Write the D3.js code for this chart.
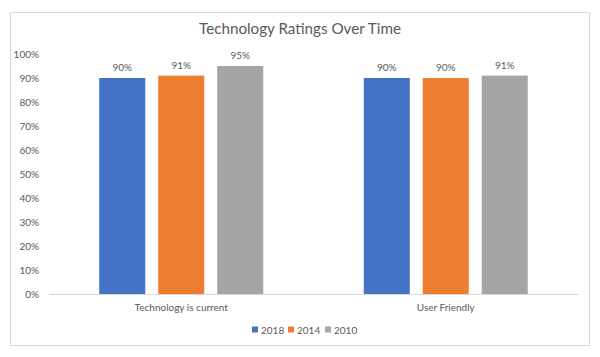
<!DOCTYPE html>
<html><head><meta charset="utf-8">
<script src="https://cdn.jsdelivr.net/npm/d3@7"></script>
<style>body{margin:0;background:#fff;}svg{display:block;font-family:Lato,"Open Sans",sans-serif;}</style>
</head><body>
<svg id="c" width="600" height="357"></svg>
<script>
const categories = ["Technology is current", "User Friendly"];
const seriesNames = ["2018", "2014", "2010"];
const values2018 = [0.90, 0.90];
const values2014 = [0.91, 0.90];
const values2010 = [0.95, 0.91];
const colors = ["#4472C4", "#ED7D31", "#A5A5A5"];
const yTicks = [0,0.1,0.2,0.3,0.4,0.5,0.6,0.7,0.8,0.9,1.0];
const title = "Technology Ratings Over Time";

const series = [values2018, values2014, values2010];
const svg = d3.select("#c");
svg.append("rect").attr("x",10.5).attr("y",12.5).attr("width",579).attr("height",333)
  .attr("fill","#fff").attr("stroke","#d9d9d9");

const mLeft = 49, mRight = 578, mTop = 54, mBottom = 294;
const x0 = d3.scaleBand().domain(categories).range([mLeft,mRight]).paddingInner(0).paddingOuter(0);
const groupW = 164;
const x1 = d3.scaleBand().domain(seriesNames).range([0,groupW]).paddingInner(0.22);
const y = d3.scaleLinear().domain([0,1]).range([mBottom,mTop]);

svg.append("text").attr("x",300).attr("y",34).attr("text-anchor","middle")
  .attr("font-size",15.2).attr("fill","#595959").text(title);

const yAxis = svg.append("g").attr("transform",`translate(${mLeft},0)`)
  .call(d3.axisLeft(y).tickValues(yTicks).tickFormat(d3.format(".0%")).tickSize(0).tickPadding(10));
yAxis.select(".domain").remove();
yAxis.selectAll("text").attr("font-size",10).attr("fill","#595959").attr("font-family","Lato,'Open Sans',sans-serif");

const xAxis = svg.append("g").attr("transform",`translate(0,${mBottom})`)
  .call(d3.axisBottom(x0).tickSize(0).tickPadding(10));
xAxis.select(".domain").attr("stroke","#d9d9d9");
xAxis.selectAll("text").attr("font-size",10).attr("fill","#595959").attr("font-family","Lato,'Open Sans',sans-serif");

categories.forEach((cat,ci)=>{
  const gx = x0(cat) + x0.bandwidth()/2 - groupW/2;
  seriesNames.forEach((s,si)=>{
    const v = series[si][ci];
    svg.append("rect").attr("x",gx + x1(s)).attr("y",y(v))
      .attr("width",x1.bandwidth()).attr("height",mBottom - y(v))
      .attr("fill",colors[si]);
    svg.append("text").attr("x",gx + x1(s) + x1.bandwidth()/2).attr("y",y(v)-7)
      .attr("text-anchor","middle").attr("font-size",10).attr("fill","#595959")
      .text(d3.format(".0%")(v));
  });
});

const legendX = [252, 288, 325];
const lg = svg.append("g");
seriesNames.forEach((s,i)=>{
  lg.append("rect").attr("x",legendX[i]).attr("y",326.5).attr("width",6).attr("height",6).attr("fill",colors[i]);
  lg.append("text").attr("x",legendX[i]+9).attr("y",333.5).attr("font-size",10).attr("fill","#595959").text(s);
});
</script>
</body></html>
